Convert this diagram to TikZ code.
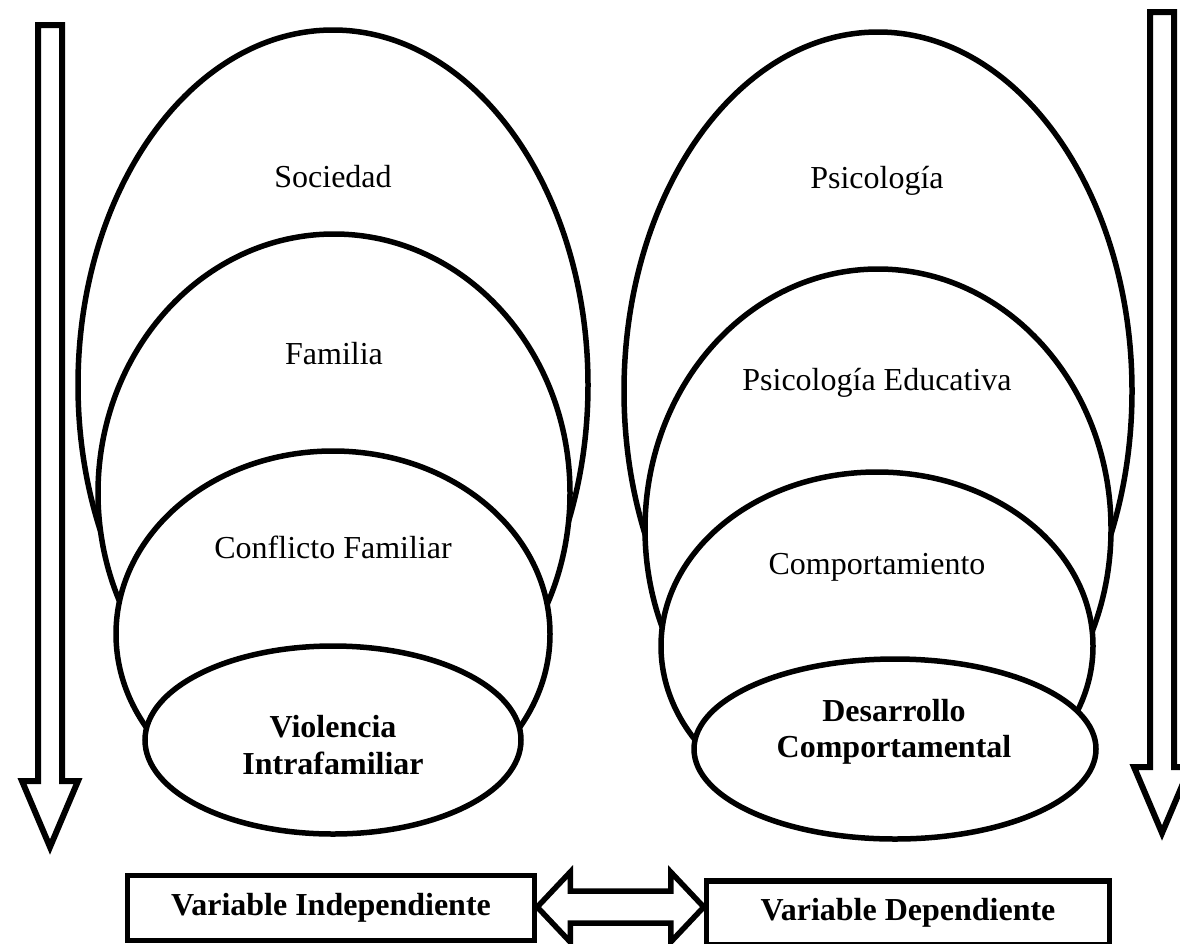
\documentclass[tikz,border=0pt]{standalone}
\usepackage{fontspec}
\setmainfont{Liberation Serif}
\usetikzlibrary{shapes.geometric,calc}
\begin{document}
\begin{tikzpicture}[x=1pt,y=-1pt,
  ell/.style={ellipse,draw,line width=5.5pt,fill=white,inner sep=0pt},
  lbl/.style={font=\fontsize{32}{36.5}\selectfont,align=center,inner sep=0pt},
  blbl/.style={font=\fontsize{32}{36.5}\selectfont\bfseries,align=center,inner sep=0pt},
  vbox/.style={draw,line width=5.5pt,inner sep=0pt,font=\fontsize{32}{36.5}\selectfont\bfseries},
  bigarrow/.style={draw,line width=6pt,fill=white,line join=miter}]
\useasboundingbox (0,0) rectangle (1180,943);

% left vertical arrow
\draw[bigarrow] (38,25) -- (62,25) -- (62,781) -- (78,781) -- (50,847) -- (22,781) -- (38,781) -- cycle;
% right vertical arrow
\draw[bigarrow] (1150,12) -- (1174,12) -- (1174,767) -- (1190,767) -- (1162,833) -- (1134,767) -- (1150,767) -- cycle;

% left stack
\node[ell,minimum width=510pt,minimum height=710pt] (soc) at (333,385) {};
\node[ell,minimum width=472pt,minimum height=518pt] (fam) at (334,493) {};
\node[ell,minimum width=434pt,minimum height=366pt] (con) at (333,634) {};
\node[ell,minimum width=376pt,minimum height=188pt] (vio) at (333,740) {};
\node[lbl] (tsoc) at (333,177) {Sociedad};
\node[lbl] (tfam) at (334,354) {Familia};
\node[lbl] (tcon) at (333,547) {Conflicto Familiar};
\node[blbl] (tvio) at (333,745) {Violencia\\Intrafamiliar};

% right stack
\node[ell,minimum width=508pt,minimum height=718pt] (psi) at (878,391) {};
\node[ell,minimum width=466pt,minimum height=520pt] (edu) at (878,529) {};
\node[ell,minimum width=432pt,minimum height=348pt] (com) at (877,646) {};
\node[ell,minimum width=402pt,minimum height=180pt] (des) at (895,749) {};
\node[lbl] (tpsi) at (877,181) {Psicología};
\node[lbl] (tedu) at (877,383) {Psicología Educativa};
\node[lbl] (tcom) at (877,567) {Comportamiento};
\node[blbl] (tdes) at (894,732) {Desarrollo\\Comportamental};

% bottom boxes
\node[vbox,minimum width=407pt,minimum height=65pt] (vi) at (331,908) {Variable Independiente};
\node[vbox,minimum width=403pt,minimum height=64pt] (vd) at (908,913) {Variable Dependiente};

% double arrow between boxes
\coordinate (la) at ($(vi.east)+(0,-1)$);
\coordinate (ra) at (vd.west |- la);
\draw[bigarrow,line width=5.5pt] (la) -- ($(la)+(33,-35)$) -- ($(la)+(33,-16)$) -- ($(ra)+(-33,-16)$) -- ($(ra)+(-33,-35)$) -- (ra)
  -- ($(ra)+(-33,35)$) -- ($(ra)+(-33,16)$) -- ($(la)+(33,16)$) -- ($(la)+(33,35)$) -- cycle;
\end{tikzpicture}
\end{document}
